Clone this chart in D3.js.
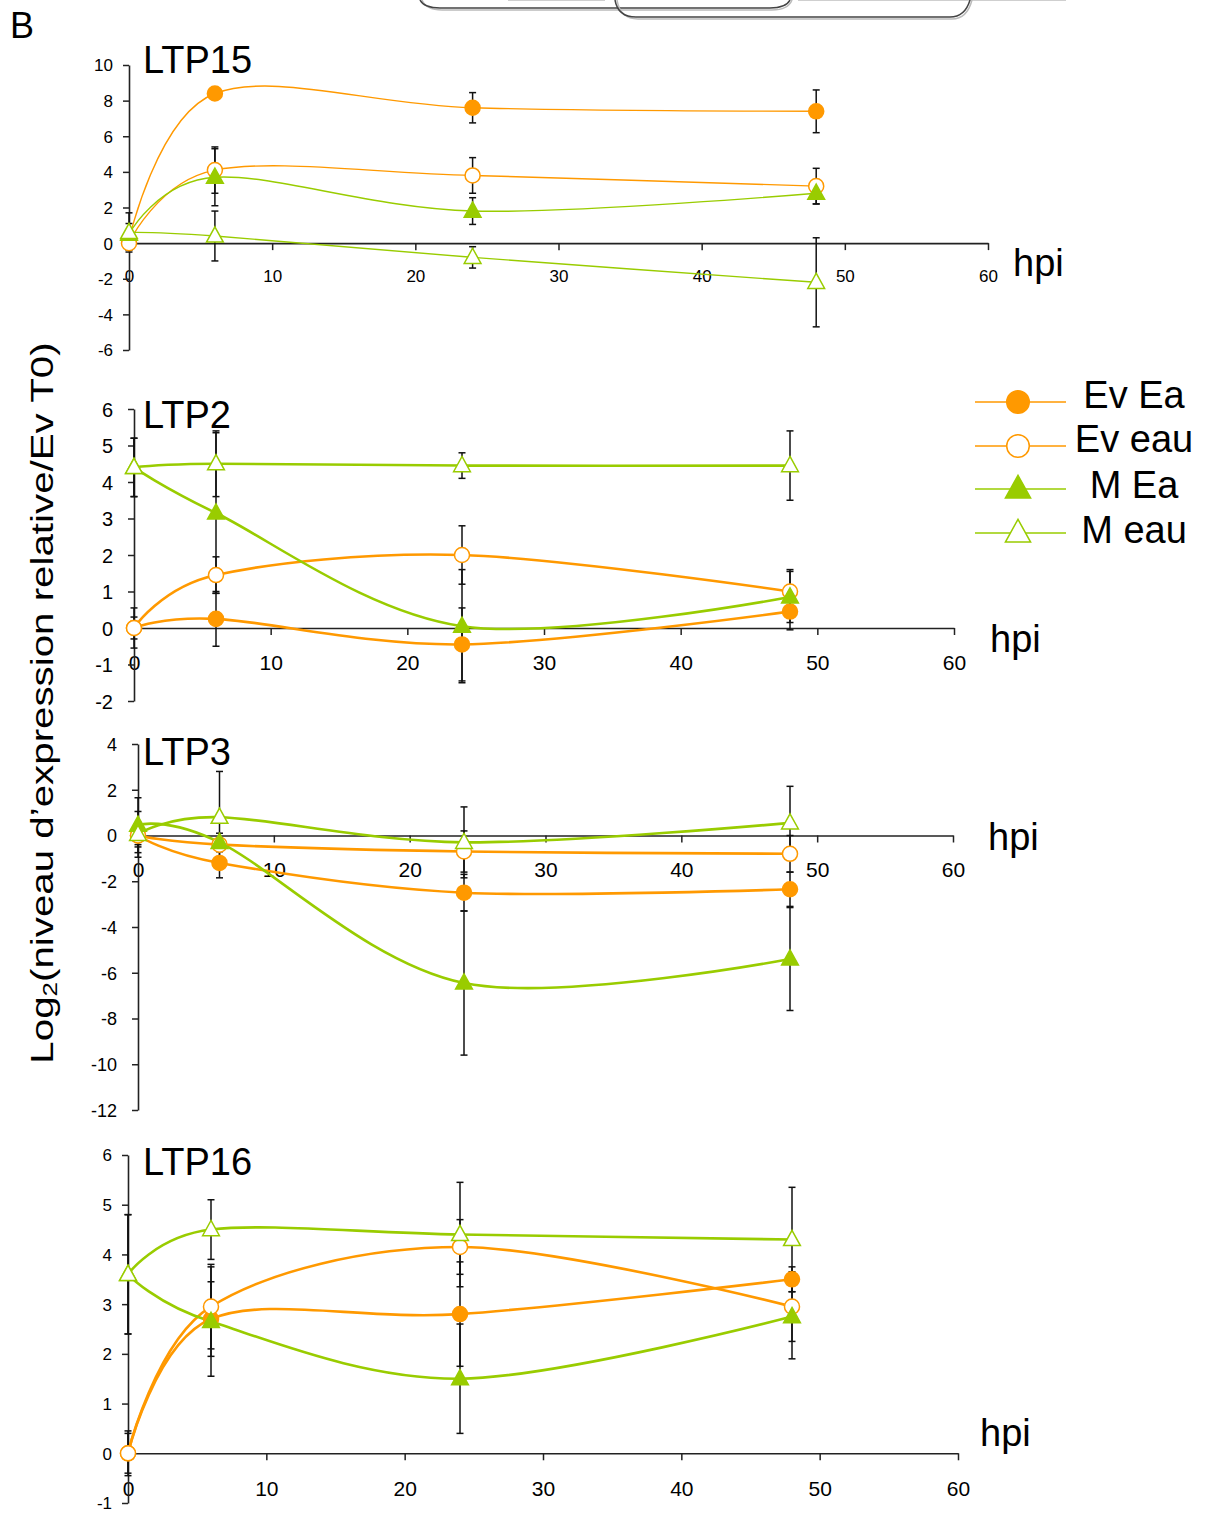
<!DOCTYPE html>
<html><head><meta charset="utf-8">
<script src="https://cdn.jsdelivr.net/npm/d3@7"></script>
<style>
body{margin:0;background:#fff}
svg{display:block}
text{font-family:"Liberation Sans",Arial,Helvetica,sans-serif;fill:#000}
</style>
</head><body>
<svg id="c" width="1206" height="1513"></svg>
<script>
// ---------- DATA ----------
const times = [0, 6, 24, 48];
const seriesNames = ["Ev Ea", "Ev eau", "M Ea", "M eau"];
const xTickValues = [0, 10, 20, 30, 40, 50, 60];

// LTP15
const ltp15EvEa     = [0.2, 8.4, 7.6, 7.4];
const ltp15EvEaErr  = [0.3, 0.3, 0.85, 1.2];
const ltp15EvEau    = [0, 4.1, 3.8, 3.2];
const ltp15EvEauErr = [0.4, 1.3, 1.0, 1.0];
const ltp15MEa      = [0.5, 3.7, 1.8, 2.8];
const ltp15MEaErr   = [0.6, 1.6, 0.75, 0.6];
const ltp15MEau     = [0.6, 0.4, -0.8, -2.2];
const ltp15MEauErr  = [1.1, 1.4, 0.6, 2.5];
const ltp15YTicks   = [-6, -4, -2, 0, 2, 4, 6, 8, 10];

// LTP2
const ltp2EvEa     = [0, 0.25, -0.45, 0.45];
const ltp2EvEaErr  = [0.55, 0.75, 1.0, 0.5];
const ltp2EvEau    = [0, 1.45, 2.0, 1.0];
const ltp2EvEauErr = [0.3, 0.5, 0.8, 0.6];
const ltp2MEa      = [4.4, 3.15, 0.05, 0.85];
const ltp2MEaErr   = [0.8, 2.2, 1.55, 0.7];
const ltp2MEau     = [4.4, 4.5, 4.45, 4.45];
const ltp2MEauErr  = [0.8, 0.9, 0.35, 0.95];
const ltp2YTicks   = [-2, -1, 0, 1, 2, 3, 4, 5, 6];

// LTP3
const ltp3EvEa     = [0, -1.2, -2.5, -2.35];
const ltp3EvEaErr  = [0.5, 0.65, 0.8, 0.75];
const ltp3EvEau    = [0, -0.4, -0.7, -0.8];
const ltp3EvEauErr = [0.4, 0.3, 0.9, 0.8];
const ltp3MEa      = [0.45, -0.3, -6.45, -5.4];
const ltp3MEaErr   = [1.2, 0.4, 3.15, 2.25];
const ltp3MEau     = [0.05, 0.8, -0.3, 0.55];
const ltp3MEauErr  = [1.0, 2.0, 1.55, 1.6];
const ltp3YTicks   = [-12, -10, -8, -6, -4, -2, 0, 2, 4];

// LTP16
const ltp16EvEa     = [0, 2.7, 2.8, 3.5];
const ltp16EvEaErr  = [0.4, 0.75, 1.05, 0.25];
const ltp16EvEau    = [0, 2.95, 4.15, 2.95];
const ltp16EvEauErr = [0.45, 0.85, 0.55, 0.7];
const ltp16MEa      = [3.6, 2.65, 1.5, 2.75];
const ltp16MEaErr   = [1.2, 1.1, 1.1, 0.85];
const ltp16MEau     = [3.6, 4.5, 4.4, 4.3];
const ltp16MEauErr  = [1.2, 0.6, 1.05, 1.05];
const ltp16YTicks   = [-1, 0, 1, 2, 3, 4, 5, 6];

// ---------- STYLE / LAYOUT ----------
const ORANGE = "#FF9900", GREEN = "#99CC00";
const seriesStyle = [
  {color: ORANGE, shape: "circle",   filled: true},
  {color: ORANGE, shape: "circle",   filled: false},
  {color: GREEN,  shape: "triangle", filled: true},
  {color: GREEN,  shape: "triangle", filled: false}
];

const panels = [
  {title: "LTP15", values: [ltp15EvEa, ltp15EvEau, ltp15MEa, ltp15MEau],
   errors: [ltp15EvEaErr, ltp15EvEauErr, ltp15MEaErr, ltp15MEauErr], yTicks: ltp15YTicks,
   xr: [129, 988], yr: [350, 65], lw: 1.4, yFont: 17, xFont: 17, xLabOff: 33, yLabRight: 113,
   titlePos: [143, 73], hpiPos: [1013, 276]},
  {title: "LTP2", values: [ltp2EvEa, ltp2EvEau, ltp2MEa, ltp2MEau],
   errors: [ltp2EvEaErr, ltp2EvEauErr, ltp2MEaErr, ltp2MEauErr], yTicks: ltp2YTicks,
   xr: [134, 954], yr: [701, 409], lw: 2.6, yFont: 20, xFont: 21, xLabOff: 35, yLabRight: 113,
   titlePos: [143, 428], hpiPos: [990, 652]},
  {title: "LTP3", values: [ltp3EvEa, ltp3EvEau, ltp3MEa, ltp3MEau],
   errors: [ltp3EvEaErr, ltp3EvEauErr, ltp3MEaErr, ltp3MEauErr], yTicks: ltp3YTicks,
   xr: [138, 953], yr: [1110, 744], lw: 2.6, yFont: 18, xFont: 21, xLabOff: 34, yLabRight: 117,
   titlePos: [143, 765], hpiPos: [988, 850]},
  {title: "LTP16", values: [ltp16EvEa, ltp16EvEau, ltp16MEa, ltp16MEau],
   errors: [ltp16EvEaErr, ltp16EvEauErr, ltp16MEaErr, ltp16MEauErr], yTicks: ltp16YTicks,
   xr: [128, 958], yr: [1503, 1155], lw: 2.6, yFont: 17, xFont: 21, xLabOff: 35, yLabRight: 112,
   titlePos: [143, 1175], hpiPos: [980, 1446]}
];

const svg = d3.select("#c");
const fmt = d => String(d);

// cropped remnants of the figure above
const remnant = svg.append("g").attr("fill", "none");
remnant.append("path").attr("d", "M508,0.5H605M798,0.5H1066").attr("stroke", "#cfcfcf").attr("stroke-width", 1);
remnant.append("path").attr("d", "M422,0 Q426,10 442,10 L772,10 Q788,10 792,0").attr("stroke", "#bbb").attr("stroke-width", 1.5);
remnant.append("path").attr("d", "M420,0 Q424,8 440,8 L770,8 Q786,8 790,0").attr("stroke", "#444").attr("stroke-width", 1.5);
remnant.append("path").attr("d", "M617,0 Q620,19 638,19 L952,19 Q967,19 972,0").attr("stroke", "#bbb").attr("stroke-width", 1.5);
remnant.append("path").attr("d", "M615,0 Q618,17 636,17 L950,17 Q965,17 970,0").attr("stroke", "#444").attr("stroke-width", 1.5);

// panel letter
svg.append("text").attr("x", 10).attr("y", 38).attr("font-size", 36).text("B");

// y-axis label
const yl = svg.append("text")
  .attr("transform", "translate(42,703) rotate(-90) scale(1.3,1)")
  .attr("text-anchor", "middle").attr("dominant-baseline", "central")
  .attr("font-size", 31);
yl.append("tspan").text("Log");
yl.append("tspan").attr("font-size", 20).attr("dy", 8).text("2");
yl.append("tspan").attr("dy", -8).text("(niveau d\u2019expression relative/Ev T0)");

function drawMarker(g, cx, cy, st, size) {
  if (st.shape === "circle") {
    g.append("circle").attr("cx", cx).attr("cy", cy).attr("r", size * 0.47)
      .attr("fill", st.filled ? st.color : "#fff").attr("stroke", st.color).attr("stroke-width", 1.5);
  } else {
    const w = size * 1.05, h = size * 0.95;
    g.append("path")
      .attr("d", `M${cx},${cy - h * 0.6}L${cx + w / 2},${cy + h * 0.4}L${cx - w / 2},${cy + h * 0.4}Z`)
      .attr("fill", st.filled ? st.color : "#fff").attr("stroke", st.color).attr("stroke-width", 1.5);
  }
}

panels.forEach(p => {
  const x = d3.scaleLinear().domain([0, 60]).range(p.xr);
  const yd = d3.extent(p.yTicks);
  const y = d3.scaleLinear().domain(yd).range(p.yr);
  const g = svg.append("g");

  // x axis at y=0
  const xa = g.append("g").attr("transform", `translate(0,${y(0)})`)
    .call(d3.axisBottom(x).tickValues(xTickValues).tickSize(7).tickSizeOuter(0).tickFormat(fmt));
  xa.select(".domain").attr("stroke", "#222").attr("stroke-width", 1.6);
  xa.selectAll(".tick line").attr("stroke", "#222").attr("stroke-width", 1.5);
  xa.selectAll("text").attr("y", p.xLabOff).attr("dy", "0.35em")
    .attr("font-size", p.xFont).attr("fill", "#222")
    .attr("font-family", "'Liberation Sans', Arial, sans-serif");

  // y axis at x=0
  const ya = g.append("g").attr("transform", `translate(${x(0)},0)`)
    .call(d3.axisLeft(y).tickValues(p.yTicks).tickSize(6).tickSizeOuter(0).tickFormat(fmt));
  ya.select(".domain").attr("stroke", "#222").attr("stroke-width", 1.6);
  ya.selectAll(".tick line").attr("stroke", "#222").attr("stroke-width", 1.5);
  ya.selectAll("text").attr("x", p.yLabRight - x(0)).attr("dy", "0.35em")
    .attr("font-size", p.yFont).attr("fill", "#222")
    .attr("font-family", "'Liberation Sans', Arial, sans-serif");

  // title & unit
  g.append("text").attr("x", p.titlePos[0]).attr("y", p.titlePos[1]).attr("font-size", 38).text(p.title);
  g.append("text").attr("x", p.hpiPos[0]).attr("y", p.hpiPos[1]).attr("font-size", 38).text("hpi");

  // error bars
  const eg = g.append("g").attr("stroke", "#111").attr("stroke-width", 1.5);
  p.values.forEach((vals, si) => {
    vals.forEach((v, i) => {
      const e = p.errors[si][i];
      const cx = x(times[i]);
      eg.append("line").attr("x1", cx).attr("x2", cx).attr("y1", y(v - e)).attr("y2", y(v + e));
      eg.append("line").attr("x1", cx - 3.5).attr("x2", cx + 3.5).attr("y1", y(v - e)).attr("y2", y(v - e));
      eg.append("line").attr("x1", cx - 3.5).attr("x2", cx + 3.5).attr("y1", y(v + e)).attr("y2", y(v + e));
    });
  });

  // smoothed lines + markers, series in order
  const line = d3.line().x((d, i) => x(times[i])).y(d => y(d)).curve(d3.curveCardinal.tension(0));
  p.values.forEach((vals, si) => {
    g.append("path").attr("d", line(vals)).attr("fill", "none")
      .attr("stroke", seriesStyle[si].color).attr("stroke-width", p.lw);
  });
  p.values.forEach((vals, si) => {
    vals.forEach((v, i) => drawMarker(g, x(times[i]), y(v), seriesStyle[si], 16));
  });
});

// legend
const legRows = [402, 446, 489, 533];
const legBase = [408, 452, 498, 543];
const lg = svg.append("g");
seriesNames.forEach((n, i) => {
  const st = seriesStyle[i];
  lg.append("line").attr("x1", 975).attr("x2", 1066).attr("y1", legRows[i]).attr("y2", legRows[i])
    .attr("stroke", st.color).attr("stroke-width", 1.6);
  drawMarker(lg, 1018, legRows[i], st, 24);
  lg.append("text").attr("x", 1134).attr("y", legBase[i]).attr("text-anchor", "middle")
    .attr("font-size", 38).text(n);
});
</script>
</body></html>
